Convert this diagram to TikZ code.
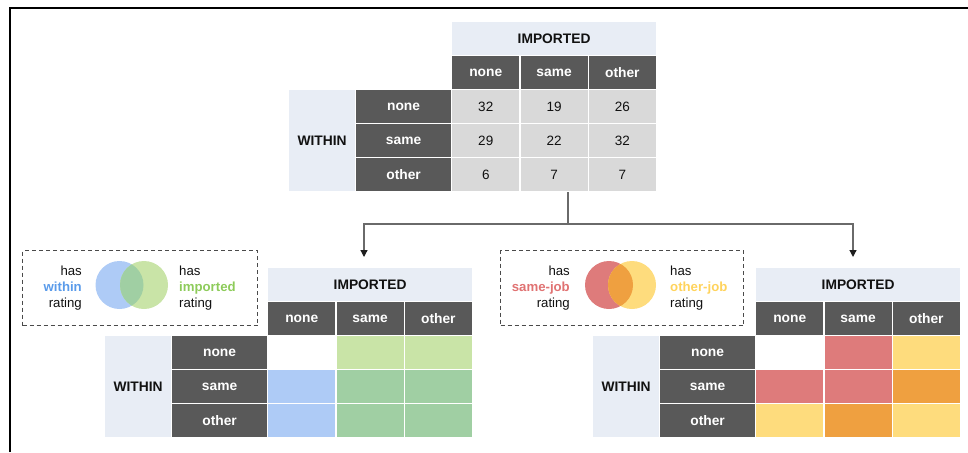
\documentclass[tikz,border=0pt]{standalone}
\usepackage{fontspec}
\setmainfont{Liberation Sans}
\usetikzlibrary{arrows.meta,positioning}
\definecolor{ink}{HTML}{111111}
\definecolor{line}{HTML}{6A6A6A}
\definecolor{dash}{HTML}{4A4A4A}
\definecolor{tip}{HTML}{1E1E1E}
\definecolor{headfill}{HTML}{595959}
\definecolor{bandfill}{HTML}{E8EDF5}
\definecolor{tally}{HTML}{D9D9D9}
\definecolor{within}{HTML}{AECBF6}
\definecolor{imported}{HTML}{C9E4A7}
\definecolor{both}{HTML}{A0CFA3}
\definecolor{samejob}{HTML}{DE7B7B}
\definecolor{otherjob}{HTML}{FEDC7D}
\definecolor{twojobs}{HTML}{EFA040}
\definecolor{withintext}{HTML}{5A9BEA}
\definecolor{importedtext}{HTML}{8DCB5A}
\definecolor{samejobtext}{HTML}{E07272}
\definecolor{otherjobtext}{HTML}{FFD35C}

\begin{document}
\begin{tikzpicture}[
  x=1pt, y=-1pt, text=ink,
  font=\fontsize{13.5}{16}\selectfont,
  cell/.style={draw=white, line width=1.2pt, anchor=north west, inner sep=0pt,
    minimum width=68.3pt, minimum height=34pt},
  band/.style={cell, fill=bandfill, font=\fontsize{13.8}{16}\selectfont\bfseries},
  head/.style={cell, fill=headfill, text=white, font=\fontsize{13.8}{16}\selectfont\bfseries},
  legend/.style={draw=dash, line width=1.1pt, dash pattern=on 4pt off 3pt,
    anchor=north west, inner sep=0pt, minimum height=75pt},
  key/.style={inner sep=0pt, font=\fontsize{13.2}{16}\selectfont},
  link/.style={draw=line, line width=1.2pt},
  arrow/.style={link, -{Triangle[length=7pt, width=7pt, color=tip]}}
]
  \useasboundingbox (0,0) rectangle (968,452);
  \draw[line width=2pt] (10,452) |- (968,7.7);
  \foreach \p/\dx/\dy in {T/0/0, L/-184/246, R/304/246} {
    \node[band, minimum width=205pt] (\p-imp) at ({451+\dx},{21+\dy}) {IMPORTED};
    \node[band, minimum width=67pt, minimum height=102pt] (\p-within) at ({288+\dx},{89+\dy}) {WITHIN};
    \foreach \t [count=\i from 0] in {none,same,other} {
      \node[head] (\p-col-\i) at ({451+\dx+68.3*\i},{55+\dy}) {\t};
      \node[head, minimum width=96pt] (\p-row-\i) at ({355+\dx},{89+\dy+34*\i}) {\t};
    }
  }
  \foreach \v [count=\k from 0] in {32,19,26,29,22,32,6,7,7} {
    \pgfmathtruncatemacro\rw{\k/3}
    \pgfmathtruncatemacro\cl{mod(\k,3)}
    \node[cell, fill=tally] (T-\rw-\cl) at ({451+68.3*\cl},{89+34*\rw}) {\v};
  }
  \foreach \f [count=\k from 0] in {white,imported,imported,within,both,both,within,both,both} {
    \pgfmathtruncatemacro\rw{\k/3}
    \pgfmathtruncatemacro\cl{mod(\k,3)}
    \node[cell, fill=\f] (L-\rw-\cl) at ({267+68.3*\cl},{335+34*\rw}) {};
  }
  \foreach \f [count=\k from 0] in {white,samejob,otherjob,samejob,samejob,twojobs,otherjob,twojobs,otherjob} {
    \pgfmathtruncatemacro\rw{\k/3}
    \pgfmathtruncatemacro\cl{mod(\k,3)}
    \node[cell, fill=\f] (R-\rw-\cl) at ({755+68.3*\cl},{335+34*\rw}) {};
  }
  \coordinate (fork) at (568,224);
  \coordinate (drop-L) at (364,257);
  \coordinate (drop-R) at (853,257);
  \draw[link] (T-2-1.south -| fork) -- (fork);
  \draw[arrow] (fork) -| (drop-L);
  \draw[arrow] (fork) -| (drop-R);
  \node[legend, minimum width=235pt] (key-L) at (22,250) {};
  \node[key, anchor=east, align=right] (key-L-a) at (82,288) {has\\\textcolor{withintext}{\bfseries within}\\rating};
  \node[key, anchor=west, align=left] (key-L-b) at (179,288) {has\\\textcolor{importedtext}{\bfseries imported}\\rating};
  \fill[within] (119.5,285) circle[radius=24pt];
  \fill[imported] (144,285) circle[radius=24pt];
  \begin{scope}
    \clip (119.5,285) circle[radius=24pt];
    \fill[both] (144,285) circle[radius=24pt];
  \end{scope}
  \node[legend, minimum width=243pt] (key-R) at (500,250) {};
  \node[key, anchor=east, align=right] (key-R-a) at (570,288) {has\\\textcolor{samejobtext}{\bfseries same-job}\\rating};
  \node[key, anchor=west, align=left] (key-R-b) at (670,288) {has\\\textcolor{otherjobtext}{\bfseries other-job}\\rating};
  \fill[samejob] (609,285) circle[radius=24pt];
  \fill[otherjob] (632,285) circle[radius=24pt];
  \begin{scope}
    \clip (609,285) circle[radius=24pt];
    \fill[twojobs] (632,285) circle[radius=24pt];
  \end{scope}
\end{tikzpicture}
\end{document}
